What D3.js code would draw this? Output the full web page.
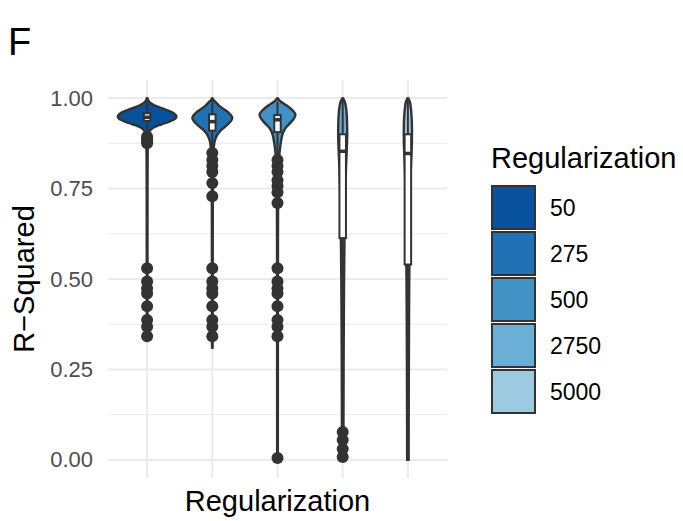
<!DOCTYPE html>
<html>
<head>
<meta charset="utf-8">
<script src="https://cdn.jsdelivr.net/npm/d3@7"></script>
<style>
  html, body { margin: 0; padding: 0; background: #fff; }
  svg { display: block; font-family: "Liberation Sans", Arial, Helvetica, sans-serif; }
</style>
</head>
<body>
<svg id="chart" width="683" height="521"></svg>
<script>
// ---------------- DATA ----------------
const categories = ["50", "275", "500", "2750", "5000"];
const legendTitle = "Regularization";
const xTitle = "Regularization";
const yTitle = "R\u2212Squared";
const panelLabel = "F";
const yTicks = [0, 0.25, 0.5, 0.75, 1.0];
const yMinorTicks = [0.125, 0.375, 0.625, 0.875];
const palette = ["#08519c", "#2171b5", "#4292c6", "#6baed6", "#9ecae1"];

// violin outlines: [R-squared value, relative density]
const violin50 = [[1.0,0.01],[0.995,0.03],[0.99,0.07],[0.985,0.14],[0.98,0.25],[0.975,0.4],[0.97,0.57],[0.965,0.74],[0.96,0.87],[0.955,0.95],[0.95,1.0],[0.945,0.98],[0.94,0.9],[0.935,0.76],[0.93,0.58],[0.925,0.4],[0.92,0.26],[0.915,0.16],[0.91,0.1],[0.905,0.07],[0.9,0.05],[0.89,0.035],[0.87,0.025],[0.85,0.02],[0.8,0.016],[0.7,0.014],[0.55,0.013],[0.45,0.013],[0.35,0.012],[0.335,0.01]];
const violin275 = [[1.0,0.01],[0.995,0.04],[0.99,0.1],[0.98,0.22],[0.97,0.38],[0.96,0.55],[0.95,0.66],[0.945,0.68],[0.94,0.66],[0.93,0.56],[0.92,0.42],[0.91,0.28],[0.9,0.18],[0.89,0.12],[0.88,0.08],[0.87,0.06],[0.85,0.04],[0.82,0.03],[0.78,0.02],[0.7,0.016],[0.5,0.014],[0.4,0.013],[0.32,0.011],[0.31,0.01]];
const violin500 = [[1.0,0.01],[0.995,0.05],[0.99,0.12],[0.98,0.3],[0.97,0.46],[0.96,0.58],[0.955,0.61],[0.95,0.6],[0.94,0.53],[0.93,0.42],[0.92,0.3],[0.91,0.22],[0.9,0.17],[0.89,0.14],[0.88,0.12],[0.87,0.1],[0.86,0.085],[0.85,0.07],[0.83,0.05],[0.8,0.035],[0.75,0.025],[0.7,0.02],[0.6,0.016],[0.4,0.014],[0.2,0.013],[0.05,0.012],[0.0,0.011]];
const violin2750 = [[1.0,0.01],[0.99,0.07],[0.97,0.12],[0.95,0.14],[0.93,0.15],[0.9,0.155],[0.88,0.15],[0.85,0.135],[0.8,0.11],[0.75,0.09],[0.7,0.075],[0.6,0.06],[0.5,0.048],[0.4,0.04],[0.3,0.034],[0.2,0.03],[0.1,0.027],[0.05,0.025],[0.0,0.024]];
const violin5000 = [[1.0,0.01],[0.99,0.065],[0.97,0.105],[0.95,0.125],[0.92,0.138],[0.9,0.14],[0.87,0.135],[0.85,0.125],[0.8,0.1],[0.7,0.075],[0.6,0.058],[0.5,0.048],[0.4,0.04],[0.3,0.035],[0.2,0.031],[0.1,0.028],[0.0,0.026]];
const violins = [violin50, violin275, violin500, violin2750, violin5000];

// boxplot statistics
const boxQ1 = [0.937, 0.91, 0.906, 0.613, 0.54];
const boxMedian = [0.947, 0.935, 0.94, 0.853, 0.847];
const boxQ3 = [0.958, 0.955, 0.953, 0.9, 0.9];
const whiskerLow = [0.905, 0.86, 0.84, 0.19, 0.0];
const whiskerHigh = [0.99, 0.998, 0.99, 1.0, 1.0];

// outliers
const outliers50 = [0.893, 0.886, 0.88, 0.875, 0.53, 0.493, 0.474, 0.46, 0.425, 0.387, 0.368, 0.342];
const outliers275 = [0.848, 0.829, 0.812, 0.796, 0.765, 0.729, 0.53, 0.493, 0.474, 0.46, 0.425, 0.387, 0.368, 0.342];
const outliers500 = [0.829, 0.812, 0.796, 0.773, 0.757, 0.74, 0.71, 0.53, 0.493, 0.474, 0.46, 0.425, 0.387, 0.368, 0.342, 0.005];
const outliers2750 = [0.077, 0.055, 0.03, 0.008];
const outliers5000 = [];
const outliers = [outliers50, outliers275, outliers500, outliers2750, outliers5000];

// ---------------- DRAW ----------------
const svg = d3.select("#chart");
const panel = {left: 108, right: 447, top: 80, bottom: 478};

const x = d3.scalePoint().domain(categories).range([panel.left, panel.right]).padding(0.6);
const step = x.step();
const y = d3.scaleLinear().domain([-0.05, 1.05]).range([panel.bottom, panel.top]);
const fill = d3.scaleOrdinal().domain(categories).range(palette);

const ink = "#333333";
const grid = "#ebebeb";

// minor gridlines
svg.append("g").selectAll("line").data(yMinorTicks).join("line")
  .attr("x1", panel.left).attr("x2", panel.right)
  .attr("y1", d => y(d)).attr("y2", d => y(d))
  .attr("stroke", grid).attr("stroke-width", 1);

// major gridlines
svg.append("g").selectAll("line").data(yTicks).join("line")
  .attr("x1", panel.left).attr("x2", panel.right)
  .attr("y1", d => y(d)).attr("y2", d => y(d))
  .attr("stroke", grid).attr("stroke-width", 2);
svg.append("g").selectAll("line").data(categories).join("line")
  .attr("x1", d => x(d)).attr("x2", d => x(d))
  .attr("y1", panel.top).attr("y2", panel.bottom)
  .attr("stroke", grid).attr("stroke-width", 2);

// y axis
const yAxis = svg.append("g")
  .attr("transform", `translate(${panel.left},0)`)
  .call(d3.axisLeft(y).tickValues(yTicks).tickFormat(d3.format(".2f")).tickSize(0).tickPadding(15));
yAxis.select(".domain").remove();
yAxis.selectAll("text").attr("fill", "#4d4d4d").style("font-size", "22px")
  .style("font-family", '"Liberation Sans", Arial, Helvetica, sans-serif');

// violins
const halfMax = step * 0.45;
categories.forEach((c, i) => {
  const cx = x(c);
  const area = d3.area()
    .y(d => y(d[0]))
    .x0(d => cx - d[1] * halfMax)
    .x1(d => cx + d[1] * halfMax)
    .curve(d3.curveMonotoneY);
  svg.append("path")
    .datum(violins[i])
    .attr("d", area)
    .attr("fill", fill(c))
    .attr("stroke", ink)
    .attr("stroke-width", 2.4)
    .attr("stroke-linejoin", "round");
});

// boxplots
const boxHalf = step * 0.05;
categories.forEach((c, i) => {
  const cx = x(c);
  const g = svg.append("g");
  g.append("line").attr("x1", cx).attr("x2", cx)
    .attr("y1", y(boxQ3[i])).attr("y2", y(whiskerHigh[i]))
    .attr("stroke", ink).attr("stroke-width", 2);
  g.append("line").attr("x1", cx).attr("x2", cx)
    .attr("y1", y(boxQ1[i])).attr("y2", y(whiskerLow[i]))
    .attr("stroke", ink).attr("stroke-width", 2);
  g.append("rect")
    .attr("x", cx - boxHalf).attr("width", boxHalf * 2)
    .attr("y", y(boxQ3[i])).attr("height", y(boxQ1[i]) - y(boxQ3[i]))
    .attr("fill", "#ffffff").attr("stroke", ink).attr("stroke-width", 2);
  g.append("line").attr("x1", cx - boxHalf).attr("x2", cx + boxHalf)
    .attr("y1", y(boxMedian[i])).attr("y2", y(boxMedian[i]))
    .attr("stroke", ink).attr("stroke-width", 3.5);
  g.selectAll("circle").data(outliers[i]).join("circle")
    .attr("cx", cx).attr("cy", d => y(d)).attr("r", 6)
    .attr("fill", ink);
});

// axis titles
svg.append("text")
  .attr("x", (panel.left + panel.right) / 2).attr("y", 511)
  .attr("text-anchor", "middle").style("font-size", "29px").attr("fill", "#000")
  .text(xTitle);
svg.append("text")
  .attr("transform", `translate(34,${(panel.top + panel.bottom) / 2}) rotate(-90)`)
  .attr("text-anchor", "middle").style("font-size", "29px").attr("fill", "#000")
  .text(yTitle);

// panel label
svg.append("text").attr("x", 8).attr("y", 55)
  .style("font-size", "38px").attr("fill", "#000").text(panelLabel);

// legend
const legend = svg.append("g");
legend.append("text").attr("x", 491).attr("y", 168)
  .style("font-size", "29px").attr("fill", "#000").text(legendTitle);
const keyStep = 46, keySize = 43, keyTop = 186;
categories.forEach((c, i) => {
  legend.append("rect")
    .attr("x", 492).attr("y", keyTop + i * keyStep)
    .attr("width", keySize).attr("height", keySize)
    .attr("fill", fill(c)).attr("stroke", ink).attr("stroke-width", 2);
  legend.append("text")
    .attr("x", 550).attr("y", keyTop + i * keyStep + keySize / 2)
    .attr("dominant-baseline", "central")
    .style("font-size", "23px").attr("fill", "#000").text(c);
});
</script>
</body>
</html>
